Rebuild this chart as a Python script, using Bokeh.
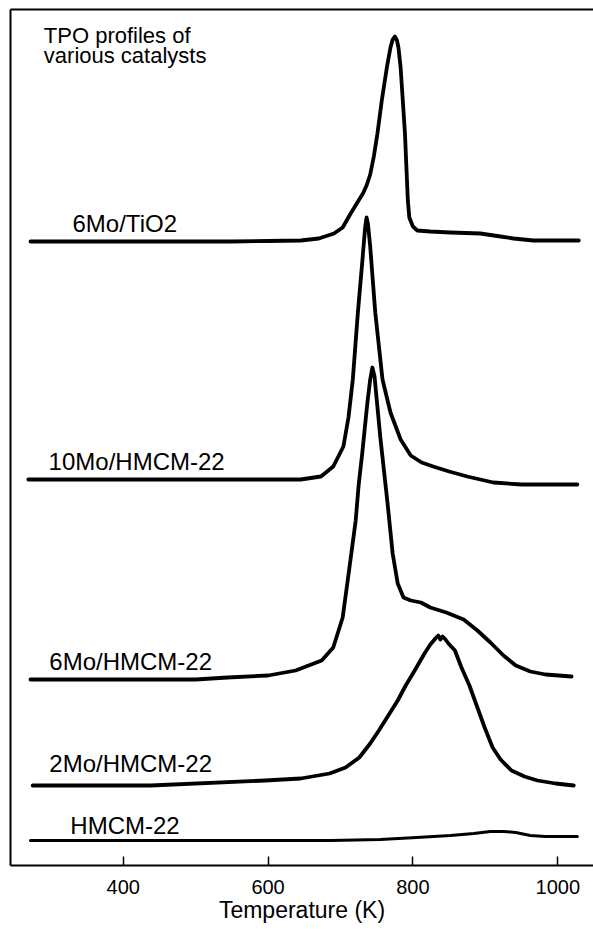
import numpy as np
from bokeh.plotting import figure
from bokeh.models import LinearAxis, FixedTicker, ColumnDataSource, Range1d
from bokeh.core.properties import value
from bokeh.embed import file_html
from bokeh.resources import INLINE

FONT = "Liberation Sans"

# ---------------- data (temperature in K, signal in a.u. above each trace's baseline) ----------------
series_names = ["6Mo/TiO2", "10Mo/HMCM-22", "6Mo/HMCM-22", "2Mo/HMCM-22", "HMCM-22"]
series_offsets = [624, 386, 186, 80, 25]

t_6mo_tio2 = [272, 350, 450, 550, 600, 645, 670, 691, 703, 714, 725, 731, 736, 741, 746, 751, 757, 764,
              769, 772, 775, 778, 780, 783, 786, 789, 791, 793, 795, 800, 806, 824, 852, 893, 921, 939,
              966, 1029]
s_6mo_tio2 = [0, 0, 0, 0, 0.5, 1, 3, 8, 14, 28, 41, 48, 56, 67, 85, 108, 141, 174,
              194, 202, 205, 201, 194, 174, 141, 108, 74, 41, 24, 15, 11, 10, 9, 8, 5, 3,
              1, 1]

t_10mo = [269, 400, 500, 600, 645, 673, 690, 704, 711, 717, 724, 730, 734, 736, 738, 741, 748, 758,
          769, 783, 797, 812, 828, 850, 875, 911, 950, 1027]
s_10mo = [0, 0, 0, 0, 0, 3, 13, 33, 62, 100, 167, 217, 252, 262, 255, 233, 167, 100,
          67, 40, 24, 17, 13, 8, 3, -3, -5, -5]

t_6mo = [272, 400, 500, 544, 600, 638, 674, 690, 703, 712, 721, 725, 730, 737, 741, 744, 747, 755,
         765, 772, 779, 787, 797, 811, 824, 846, 870, 889, 907, 925, 942, 962, 983, 1019]
s_6mo = [0, 0, 0, 2, 4, 9, 19, 32, 62, 110, 159, 194, 226, 276, 300, 312, 303, 242,
         176, 126, 96, 82, 79, 77, 72, 67, 60, 49, 37, 24, 14, 8, 5, 3]

t_2mo = [275, 438, 596, 645, 685, 707, 726, 741, 753, 779, 790, 800, 808, 816, 824, 831, 835, 838,
         841, 845, 849, 858, 867, 878, 889, 899, 910, 921, 936, 954, 972, 997, 1022]
s_2mo = [0, 0, 5, 7, 12, 18, 28, 42, 55, 85, 100, 112, 122, 132, 141, 147, 150, 146,
         149, 146, 142, 135, 118, 100, 78, 58, 38, 26, 15, 9, 5, 2, 0]

t_hmcm = [272, 507, 686, 755, 805, 852, 884, 907, 925, 942, 962, 983, 1027]
s_hmcm = [0, 0, 0, 1, 3, 5, 7, 9, 9, 8, 5, 4, 4]

tick_values = [400, 600, 800, 1000]
x_label = "Temperature (K)"
title_lines = ["TPO profiles of", "various catalysts"]

temps = [t_6mo_tio2, t_10mo, t_6mo, t_2mo, t_hmcm]
signals = [s_6mo_tio2, s_10mo, s_6mo, s_2mo, s_hmcm]
widths = [3.8, 3.8, 3.8, 3.8, 3.0]

# ---------------- figure ----------------
p = figure(width=593, height=929, output_backend="svg", toolbar_location=None,
           x_range=Range1d(244.4, 1049.3), y_range=Range1d(0, 856),
           min_border_left=10, min_border_right=0, min_border_top=9, min_border_bottom=64)
p.outline_line_color = None
p.grid.visible = False
p.background_fill_color = "white"
p.border_fill_color = "white"

for t, s, off, w in zip(temps, signals, series_offsets, widths):
    y = np.array(s, dtype=float) + off
    p.line(x=t, y=y, line_color="black", line_width=w, line_join="round", line_cap="round")

# series labels, placed relative to each trace's baseline
lab_x = [330, 297, 298, 298, 327]
lab_gap = [18, 18, 18, 22, 15]
lab_src = ColumnDataSource(dict(x=lab_x, y=[o + g for o, g in zip(series_offsets, lab_gap)],
                                text=series_names))
p.text(x="x", y="y", text="text", source=lab_src, text_font=value(FONT), text_font_size="24px",
       text_color="black", text_align="left", text_baseline="alphabetic")

title_src = ColumnDataSource(dict(x=[290.4, 290.4], y=[830, 810], text=title_lines))
p.text(x="x", y="y", text="text", source=title_src, text_font=value(FONT), text_font_size="22px",
       text_color="black", text_align="left", text_baseline="alphabetic")

# bottom axis
xa = p.xaxis[0]
xa.ticker = FixedTicker(ticks=tick_values)
xa.major_tick_in = 9
xa.major_tick_out = 0
xa.major_tick_line_width = 1.5
xa.minor_tick_line_color = None
xa.axis_line_width = 2
xa.major_label_text_font = FONT
xa.major_label_text_font_size = "20px"
xa.major_label_text_color = "black"
xa.major_label_standoff = 14
xa.axis_label = x_label
xa.axis_label_text_font = FONT
xa.axis_label_text_font_size = "23px"
xa.axis_label_text_font_style = "normal"
xa.axis_label_text_color = "black"
xa.axis_label_standoff = 0

# left border (axis without ticks)
ya = p.yaxis[0]
ya.ticker = FixedTicker(ticks=[])
ya.axis_line_width = 2
ya.major_tick_out = 0
ya.major_tick_in = 0
ya.minor_tick_line_color = None
ya.major_label_text_font_size = "0px"
ya.major_label_standoff = 0

# top border
top = LinearAxis(ticker=FixedTicker(ticks=[]), axis_line_width=2, major_tick_out=0, major_tick_in=0,
                 minor_tick_line_color=None, major_label_text_font_size="0px", major_label_standoff=0)
p.add_layout(top, "above")

open("out.html", "w").write(file_html(p, INLINE))
